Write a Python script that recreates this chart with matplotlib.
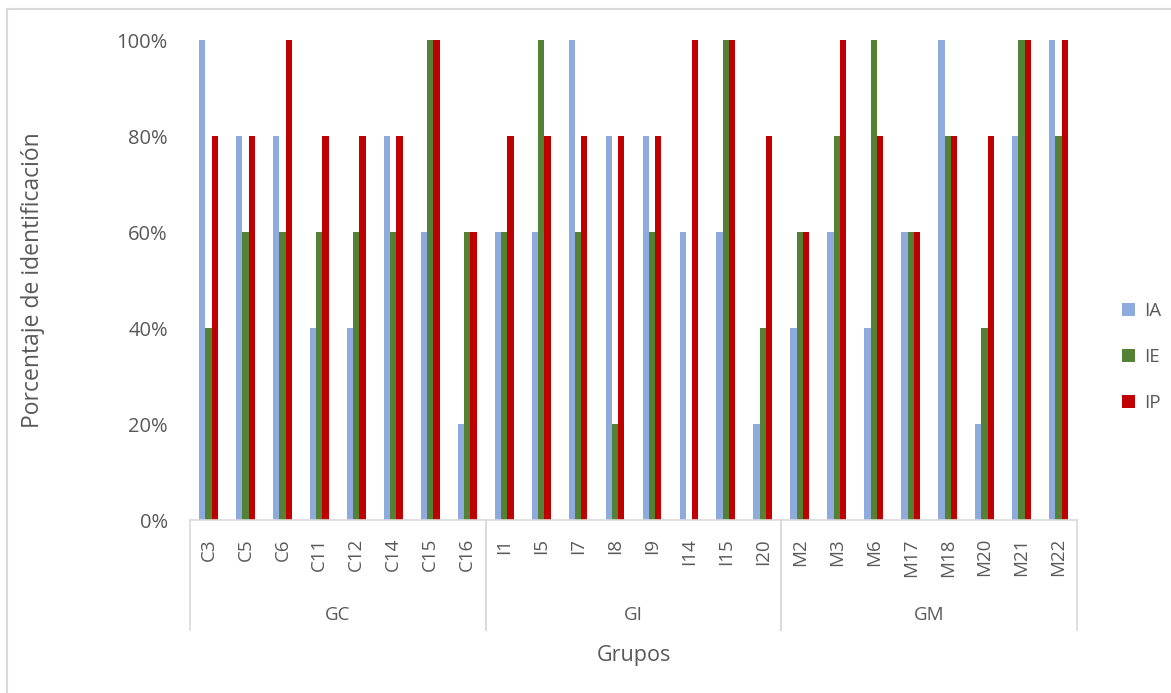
import matplotlib
matplotlib.use("Agg")
import matplotlib.pyplot as plt
from matplotlib.patches import Rectangle
from matplotlib.transforms import blended_transform_factory
import numpy as np

plt.rcParams['font.family'] = ['Open Sans', 'DejaVu Sans']

# Categories (two-level axis)
groups = ["GC", "GI", "GM"]
group_members = [
    ["C3", "C5", "C6", "C11", "C12", "C14", "C15", "C16"],
    ["I1", "I5", "I7", "I8", "I9", "I14", "I15", "I20"],
    ["M2", "M3", "M6", "M17", "M18", "M20", "M21", "M22"],
]
categories = [c for g in group_members for c in g]

# Identification percentages per series
ia = [100, 80, 80, 40, 40, 80, 60, 20,
      60, 60, 100, 80, 80, 60, 60, 20,
      40, 60, 40, 60, 100, 20, 80, 100]
ie = [40, 60, 60, 60, 60, 60, 100, 60,
      60, 100, 60, 20, 60, 0, 100, 40,
      60, 80, 100, 60, 80, 40, 100, 80]
ip = [80, 80, 100, 80, 80, 80, 100, 60,
      80, 80, 80, 80, 80, 100, 100, 80,
      60, 100, 80, 60, 80, 80, 100, 100]

series = [("IA", ia, "#8FAADC"), ("IE", ie, "#548235"), ("IP", ip, "#C00000")]

W, H = 1171, 693
fig = plt.figure(figsize=(W / 100, H / 100), dpi=100)
fig.patch.set_facecolor("white")

# outer chart frame
fig.patches.append(Rectangle((7 / W, -0.1), 1.2, (H - 9) / H + 0.1,
                             transform=fig.transFigure, fill=False,
                             edgecolor="#D9D9D9", linewidth=1.5))

left, right, top, bottom = 190, 1077, 40, 520
ax = fig.add_axes([left / W, 1 - bottom / H, (right - left) / W, (bottom - top) / H])

text_color = "#595959"
line_color = "#D9D9D9"

x = np.arange(len(categories))
bw = 0.17
for i, (name, vals, col) in enumerate(series):
    ax.bar(x + (i - 1) * bw, vals, width=bw, color=col, label=name, zorder=2)

ax.set_xlim(-0.5, len(categories) - 0.5)
ax.set_ylim(0, 100)
ax.set_yticks(np.arange(0, 101, 20))
ax.set_yticklabels([f"{v}%" for v in range(0, 101, 20)], fontsize=14.5, color=text_color)
ax.tick_params(axis="y", length=0, pad=16)

ax.set_xticks(x)
ax.set_xticklabels(categories, rotation=90, fontsize=13.5, color=text_color, va="top")
ax.tick_params(axis="x", length=0, pad=13)

for s in ["top", "right", "left"]:
    ax.spines[s].set_visible(False)
ax.spines["bottom"].set_color(line_color)
ax.spines["bottom"].set_linewidth(1.2)

# group separators and labels below the category labels
trans = blended_transform_factory(ax.transData, ax.transAxes)
depth = -110 / (bottom - top)
start = 0
for gname, members in zip(groups, group_members):
    end = start + len(members)
    for b in (start - 0.5, end - 0.5):
        ax.plot([b, b], [0, depth], transform=trans, color=line_color,
                linewidth=1.2, clip_on=False)
    ax.text((start + end - 1) / 2, -95 / (bottom - top), gname, transform=trans,
            ha="center", va="center", fontsize=13.5, color=text_color)
    start = end

ax.text(0.5, -135 / (bottom - top), "Grupos", transform=ax.transAxes,
        ha="center", va="center", fontsize=15.5, color=text_color)
fig.text(33 / W, 1 - 280 / H, "Porcentaje de identificación", rotation=90,
         ha="center", va="center", fontsize=16.5, color=text_color)

leg = fig.legend(loc="center left", bbox_to_anchor=(1105 / W, 1 - 357 / H),
                 frameon=False, fontsize=13.5, handlelength=0.7, handleheight=0.7,
                 labelspacing=1.5, handletextpad=0.5)
for t in leg.get_texts():
    t.set_color(text_color)

fig.savefig("out.png", dpi=100, facecolor="white")
